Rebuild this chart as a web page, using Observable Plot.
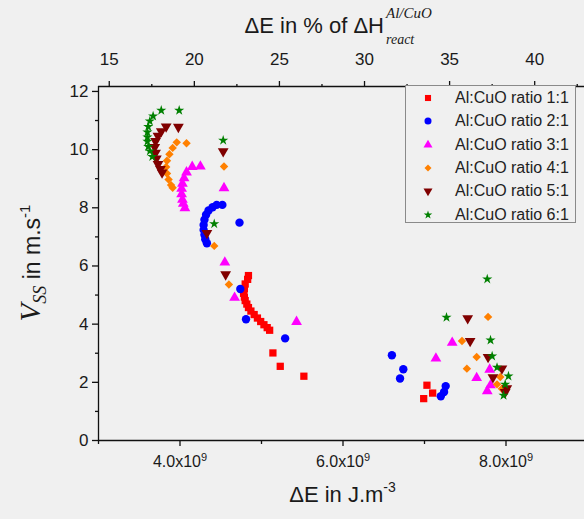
<!DOCTYPE html>
<html><head><meta charset="utf-8">
<script src="https://cdn.jsdelivr.net/npm/d3@7"></script>
<script src="https://cdn.jsdelivr.net/npm/@observablehq/plot@0.6"></script>
<style>
html,body{margin:0;padding:0;background:#f0f0f0;}
#chart{position:relative;width:584px;height:519px;overflow:hidden;font-family:"Liberation Sans",Arial,sans-serif;color:#1a1a1a;}
#legend{position:absolute;left:405px;top:85px;width:171px;height:138px;border:1px solid #8a8a8a;box-sizing:border-box;background:#f0f0f0;}
.row{position:absolute;left:0;height:22px;display:flex;align-items:center;}
.row svg{width:46px;height:22px;flex:none;}
.row span{font-size:16px;color:#222;margin-left:3px;white-space:nowrap;}
</style></head><body><div id="chart"></div>
<script>
// ---- data (ΔE in units of 1e9 J/m^3, Vss in m/s) ----
const seriesNames = ["Al:CuO ratio 1:1","Al:CuO ratio 2:1","Al:CuO ratio 3:1","Al:CuO ratio 4:1","Al:CuO ratio 5:1","Al:CuO ratio 6:1"];
const seriesColors = ["#ff0000","#0000ff","#ff00ff","#ff8000","#800000","#008000"];

const e1 = [4.84,4.83,4.80,4.79,4.78,4.79,4.80,4.82,4.84,4.87,4.91,4.95,4.99,5.03,5.07,5.10,5.14,5.23,5.52,7.03,7.10,6.99];
const v1 = [5.67,5.54,5.38,5.21,5.06,4.93,4.81,4.69,4.57,4.45,4.33,4.21,4.09,3.98,3.88,3.79,3.01,2.55,2.21,1.90,1.63,1.44];

const e2 = [4.52,4.45,4.40,4.35,4.32,4.30,4.29,4.29,4.30,4.31,4.33,4.73,4.74,4.81,5.29,6.60,6.74,6.70,7.26,7.24,7.20];
const v2 = [8.10,8.10,8.02,7.91,7.76,7.59,7.41,7.24,7.07,6.92,6.78,7.49,5.21,4.17,3.51,2.93,2.45,2.13,1.87,1.67,1.52];

const e3 = [4.25,4.15,4.08,4.05,4.03,4.02,4.02,4.03,4.04,4.06,4.54,4.55,4.67,5.43,7.14,7.34,7.80,7.64,7.81,7.77];
const v3 = [9.42,9.41,9.22,9.02,8.83,8.66,8.47,8.28,8.14,7.99,8.68,6.12,4.91,4.08,2.82,3.36,2.44,2.15,1.90,1.70];

const e4 = [4.08,3.96,3.91,3.87,3.84,3.83,3.84,3.86,3.89,3.91,4.54,4.42,4.60,7.46,7.78,7.64,7.52,7.93,7.89,7.95];
const v4 = [10.22,10.25,10.06,9.84,9.62,9.40,9.18,8.97,8.78,8.69,9.42,6.69,5.36,3.42,4.25,2.87,2.47,2.18,1.93,1.78];

const e5 = [3.83,3.98,3.77,3.73,3.70,3.69,3.70,3.71,3.73,3.76,3.78,4.53,4.33,4.56,7.53,7.56,7.78,7.95,7.84,8.01,7.99];
const v5 = [10.79,10.78,10.63,10.47,10.29,10.09,9.89,9.69,9.50,9.33,9.21,9.94,7.13,5.71,4.20,3.42,2.87,2.47,2.17,1.79,1.66];

const e6 = [3.77,3.99,3.67,3.63,3.61,3.60,3.60,3.60,3.61,3.63,3.66,4.53,4.42,7.77,7.27,7.81,7.83,7.89,8.03,7.99,7.97];
const v6 = [11.35,11.35,11.15,10.98,10.79,10.60,10.43,10.28,10.10,9.95,9.76,10.32,7.45,5.55,4.23,3.45,2.90,2.51,2.21,1.93,1.55];

// ΔH_react of Al/CuO in 1e9 J/m^3 (for the top % axis)
const deltaH = 20.88;
const xMajorTicks = [4, 6, 8];
const xMinorTicks = [3, 5, 7, 9];
const yMajorTicks = [0, 2, 4, 6, 8, 10, 12];
const yMinorTicks = [1, 3, 5, 7, 9, 11];
const topMajorTicks = [15, 20, 25, 30, 35, 40];
const topMinorTicks = [17.5, 22.5, 27.5, 32.5, 37.5, 42.5];

// ---- symbols ----
const triangleDown = {
  draw(ctx, size) {
    const s3 = Math.sqrt(3);
    const y = -Math.sqrt(size / (s3 * 3));
    ctx.moveTo(0, -y * 2);
    ctx.lineTo(-s3 * y, y);
    ctx.lineTo(s3 * y, y);
    ctx.closePath();
  }
};
const seriesSymbols = [d3.symbolSquare, d3.symbolCircle, d3.symbolTriangle, d3.symbolDiamond2, triangleDown, d3.symbolStar];
const seriesR = [4.1, 4.2, 4.0, 3.8, 4.0, 3.2];

const Es = [e1, e2, e3, e4, e5, e6];
const Vs = [v1, v2, v3, v4, v5, v6];
const table = seriesNames.map((name, k) => Es[k].map((e, i) => ({series: name, k, E: e, V: Vs[k][i]}))).flat();

const yMax = 12.17;
const axisStyle = {stroke: "#111", strokeWidth: 1.3};

const plot = Plot.plot({
  width: 584,
  height: 519,
  marginLeft: 98,
  marginRight: -3,
  marginTop: 86,
  marginBottom: 79,
  style: {background: "transparent", color: "#1a1a1a", fontFamily: "'Liberation Sans', Arial, sans-serif", overflow: "visible"},
  x: {domain: [3, 9]},
  y: {domain: [0, yMax]},
  marks: [
    ...seriesNames.map((name, k) => Plot.dot(table.filter(d => d.k === k), {
      x: "E", y: "V", symbol: seriesSymbols[k], fill: seriesColors[k], r: seriesR[k]
    })),
    Plot.ruleX([3], axisStyle),
    Plot.ruleY([0], axisStyle),
    Plot.ruleY([yMax], axisStyle),
    Plot.axisY({ticks: yMajorTicks, tickSize: 6, tickPadding: 4, fontSize: 17, label: null, tickFormat: d => String(d), ...axisStyle}),
    Plot.axisY({ticks: yMinorTicks, tickSize: 3, tickFormat: () => "", label: null, ...axisStyle}),
    Plot.axisX({anchor: "bottom", ticks: xMajorTicks, tickSize: 6, tickPadding: 9, fontSize: 16, label: null, tickFormat: d => d.toFixed(1) + "x10", ...axisStyle}),
    Plot.axisX({anchor: "bottom", ticks: xMinorTicks, tickSize: 4, tickFormat: () => "", label: null, ...axisStyle}),
    Plot.axisX({anchor: "top", ticks: topMajorTicks.map(p => p * deltaH / 100), tickSize: 6, tickPadding: 16, fontSize: 17, label: null, tickFormat: d => String(Math.round(d * 100 / deltaH)), ...axisStyle}),
    Plot.axisX({anchor: "top", ticks: topMinorTicks.map(p => p * deltaH / 100), tickSize: 3, tickFormat: () => "", label: null, ...axisStyle})
  ]
});

const chart = document.getElementById("chart");
chart.appendChild(plot);

const svg = d3.select(plot);
// superscript 9 on bottom tick labels
svg.selectAll("text").filter(function() { return /x10$/.test(this.textContent); }).each(function() {
  d3.select(this).append("tspan").attr("dy", "-0.55em").attr("font-size", 11).text("9");
});

const sx = plot.scale("x");
const sy = plot.scale("y");
const xMid = (sx.apply(3) + sx.apply(9)) / 2;
const serif = "'Liberation Serif', 'Times New Roman', serif";
const sans = "'Liberation Sans', Arial, sans-serif";

// bottom label
const bl = svg.append("text").attr("x", xMid).attr("y", 502).attr("text-anchor", "middle")
  .attr("font-family", sans).attr("font-size", 22).attr("fill", "#1a1a1a");
bl.append("tspan").text("\u0394E in J.m");
bl.append("tspan").attr("dy", -10).attr("font-size", 14).text("-3");

// top label
const hx = 384;
svg.append("text").attr("x", hx).attr("y", 33).attr("text-anchor", "end")
  .attr("font-family", sans).attr("font-size", 22).attr("fill", "#1a1a1a").text("\u0394E in % of \u0394H");
svg.append("text").attr("x", hx + 2).attr("y", 18).attr("text-anchor", "start").attr("font-family", serif).attr("font-style", "italic")
  .attr("font-size", 15).attr("fill", "#1a1a1a").text("Al/CuO");
svg.append("text").attr("x", hx + 2).attr("y", 44).attr("text-anchor", "start").attr("font-family", serif).attr("font-style", "italic")
  .attr("font-size", 14).attr("fill", "#1a1a1a").text("react");

// y label
const yl = svg.append("text").attr("transform", `translate(40,${(sy.apply(0) + sy.apply(yMax)) / 2}) rotate(-90)`)
  .attr("text-anchor", "middle").attr("fill", "#1a1a1a");
yl.append("tspan").attr("font-family", serif).attr("font-style", "italic").attr("font-size", 29).text("V");
yl.append("tspan").attr("font-family", serif).attr("font-style", "italic").attr("font-size", 18).attr("dy", 6).text("SS");
yl.append("tspan").attr("font-family", sans).attr("font-size", 23).attr("dy", -6).text(" in m.s");
yl.append("tspan").attr("font-family", sans).attr("font-size", 15).attr("dy", -10).text("-1");

// legend
const legend = d3.select(chart).append("div").attr("id", "legend");
seriesNames.forEach((name, k) => {
  const row = legend.append("div").attr("class", "row").style("top", (1 + 23.3 * k) + "px");
  const s = row.append("svg").attr("viewBox", "0 0 46 22");
  s.append("path").attr("transform", "translate(22,11)")
    .attr("d", d3.symbol(seriesSymbols[k], Math.PI * seriesR[k] * seriesR[k] * 0.7)())
    .attr("fill", seriesColors[k]);
  row.append("span").text(name);
});
</script>
</body></html>
